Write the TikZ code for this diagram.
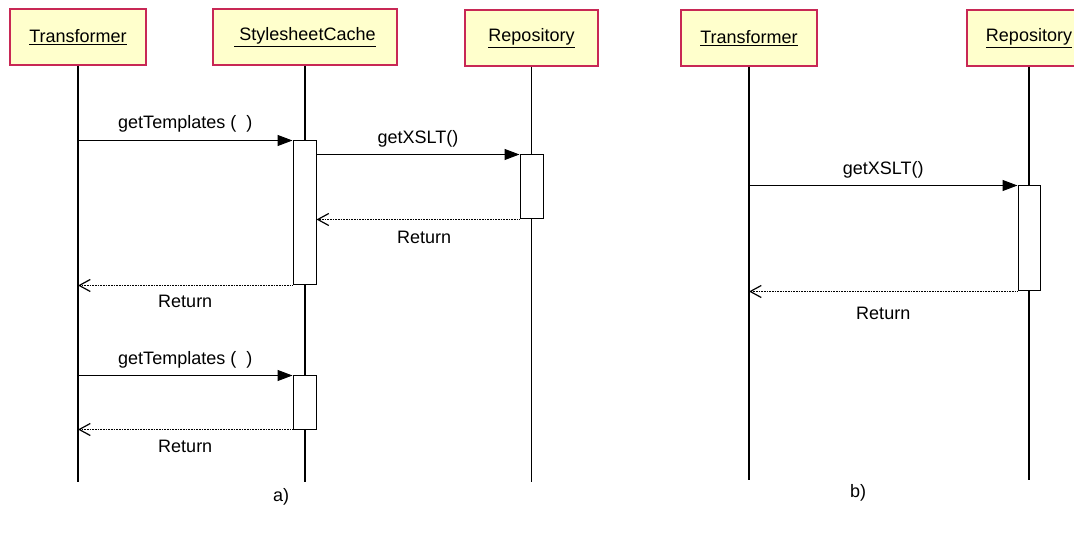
\documentclass[tikz,border=0pt]{standalone}
\usepackage{fontspec}
\setmainfont{Liberation Sans}
\usetikzlibrary{arrows.meta}
\definecolor{objfill}{RGB}{255,255,204}
\definecolor{objline}{RGB}{200,40,85}

\begin{document}
\begin{tikzpicture}[x=1pt, y=-1pt, >=Stealth,
  every node/.append style={font=\fontsize{18}{20}\selectfont},
  obj/.style={draw=objline, line width=1.4pt, fill=objfill, minimum height=56pt, inner sep=0pt},
  act/.style={draw, fill=white, line width=1pt, minimum width=23pt, inner sep=0pt},
  life/.style={line width=1.3pt},
  call/.style={->, line width=1pt, >={Triangle[length=15pt,width=11pt]}},
  ret/.style={->, line width=1.2pt, dash pattern=on 1pt off 0.6pt, >={Straight Barb[length=11pt,width=12pt]}}]
  \clip (0,0) rectangle (1074,537);
  % Objects (a)
  \node[obj, minimum width=136pt] (tA) at (78,37) {\underline{Transformer}};
  \node[obj, minimum width=184pt] (cA) at (305,37) {\underline{\ StylesheetCache}};
  \node[obj, minimum width=133pt] (rA) at (531.5,38) {\underline{Repository}};
  % Objects (b)
  \node[obj, minimum width=136pt] (tB) at (749,38) {\underline{Transformer}};
  \node[obj, minimum width=124pt] (rB) at (1029,38) {\underline{Repository}};
  % Lifelines
  \coordinate (endA) at (0,482);
  \coordinate (endB) at (0,480);
  \draw[life] (tA.south) -- (tA.south |- endA);
  \draw[life] (cA.south) -- (cA.south |- endA);
  \draw[life] (rA.south) -- (rA.south |- endA);
  \draw[life] (tB.south) -- (tB.south |- endB);
  \draw[life] (rB.south) -- (rB.south |- endB);
  % Activations
  \node[act, minimum height=144pt] (act1) at (304.5,213) {};
  \node[act, minimum height=64pt] (act2) at (531.5,187) {};
  \node[act, minimum height=53pt] (act3) at (304.5,402.5) {};
  \node[act, minimum width=22pt, minimum height=105pt] (act4) at (1029,238.5) {};
  % Messages (a)
  \draw[call] (tA |- act1.north) -- node[above=4pt] (m1) {getTemplates (\ \ )} (act1.north west);
  \draw[call] (act1.east |- act2.north) -- node[above=3pt] (m2) {getXSLT()} (act2.north west);
  \draw[ret] (act2.south west) -- node[pos=0.47, below=8pt] (r2) {Return} (act1.east |- act2.south);
  \draw[ret] (act1.south west) -- node[below=6pt] (r1) {Return} (tA |- act1.south);
  \draw[call] (tA |- act3.north) -- node[above=3pt] (m3) {getTemplates (\ \ )} (act3.north west);
  \draw[ret] (act3.south west) -- node[below=7pt] (r3) {Return} (tA |- act3.south);
  % Messages (b)
  \draw[call] (tB |- act4.north) -- node[above=3pt] (m4) {getXSLT()} (act4.north west);
  \draw[ret] (act4.south west) -- node[below=12pt] (r4) {Return} (tB |- act4.south);
  % Captions
  \node (capA) at (281,497) {a)};
  \node (capB) at (858,493) {b)};
\end{tikzpicture}
\end{document}
